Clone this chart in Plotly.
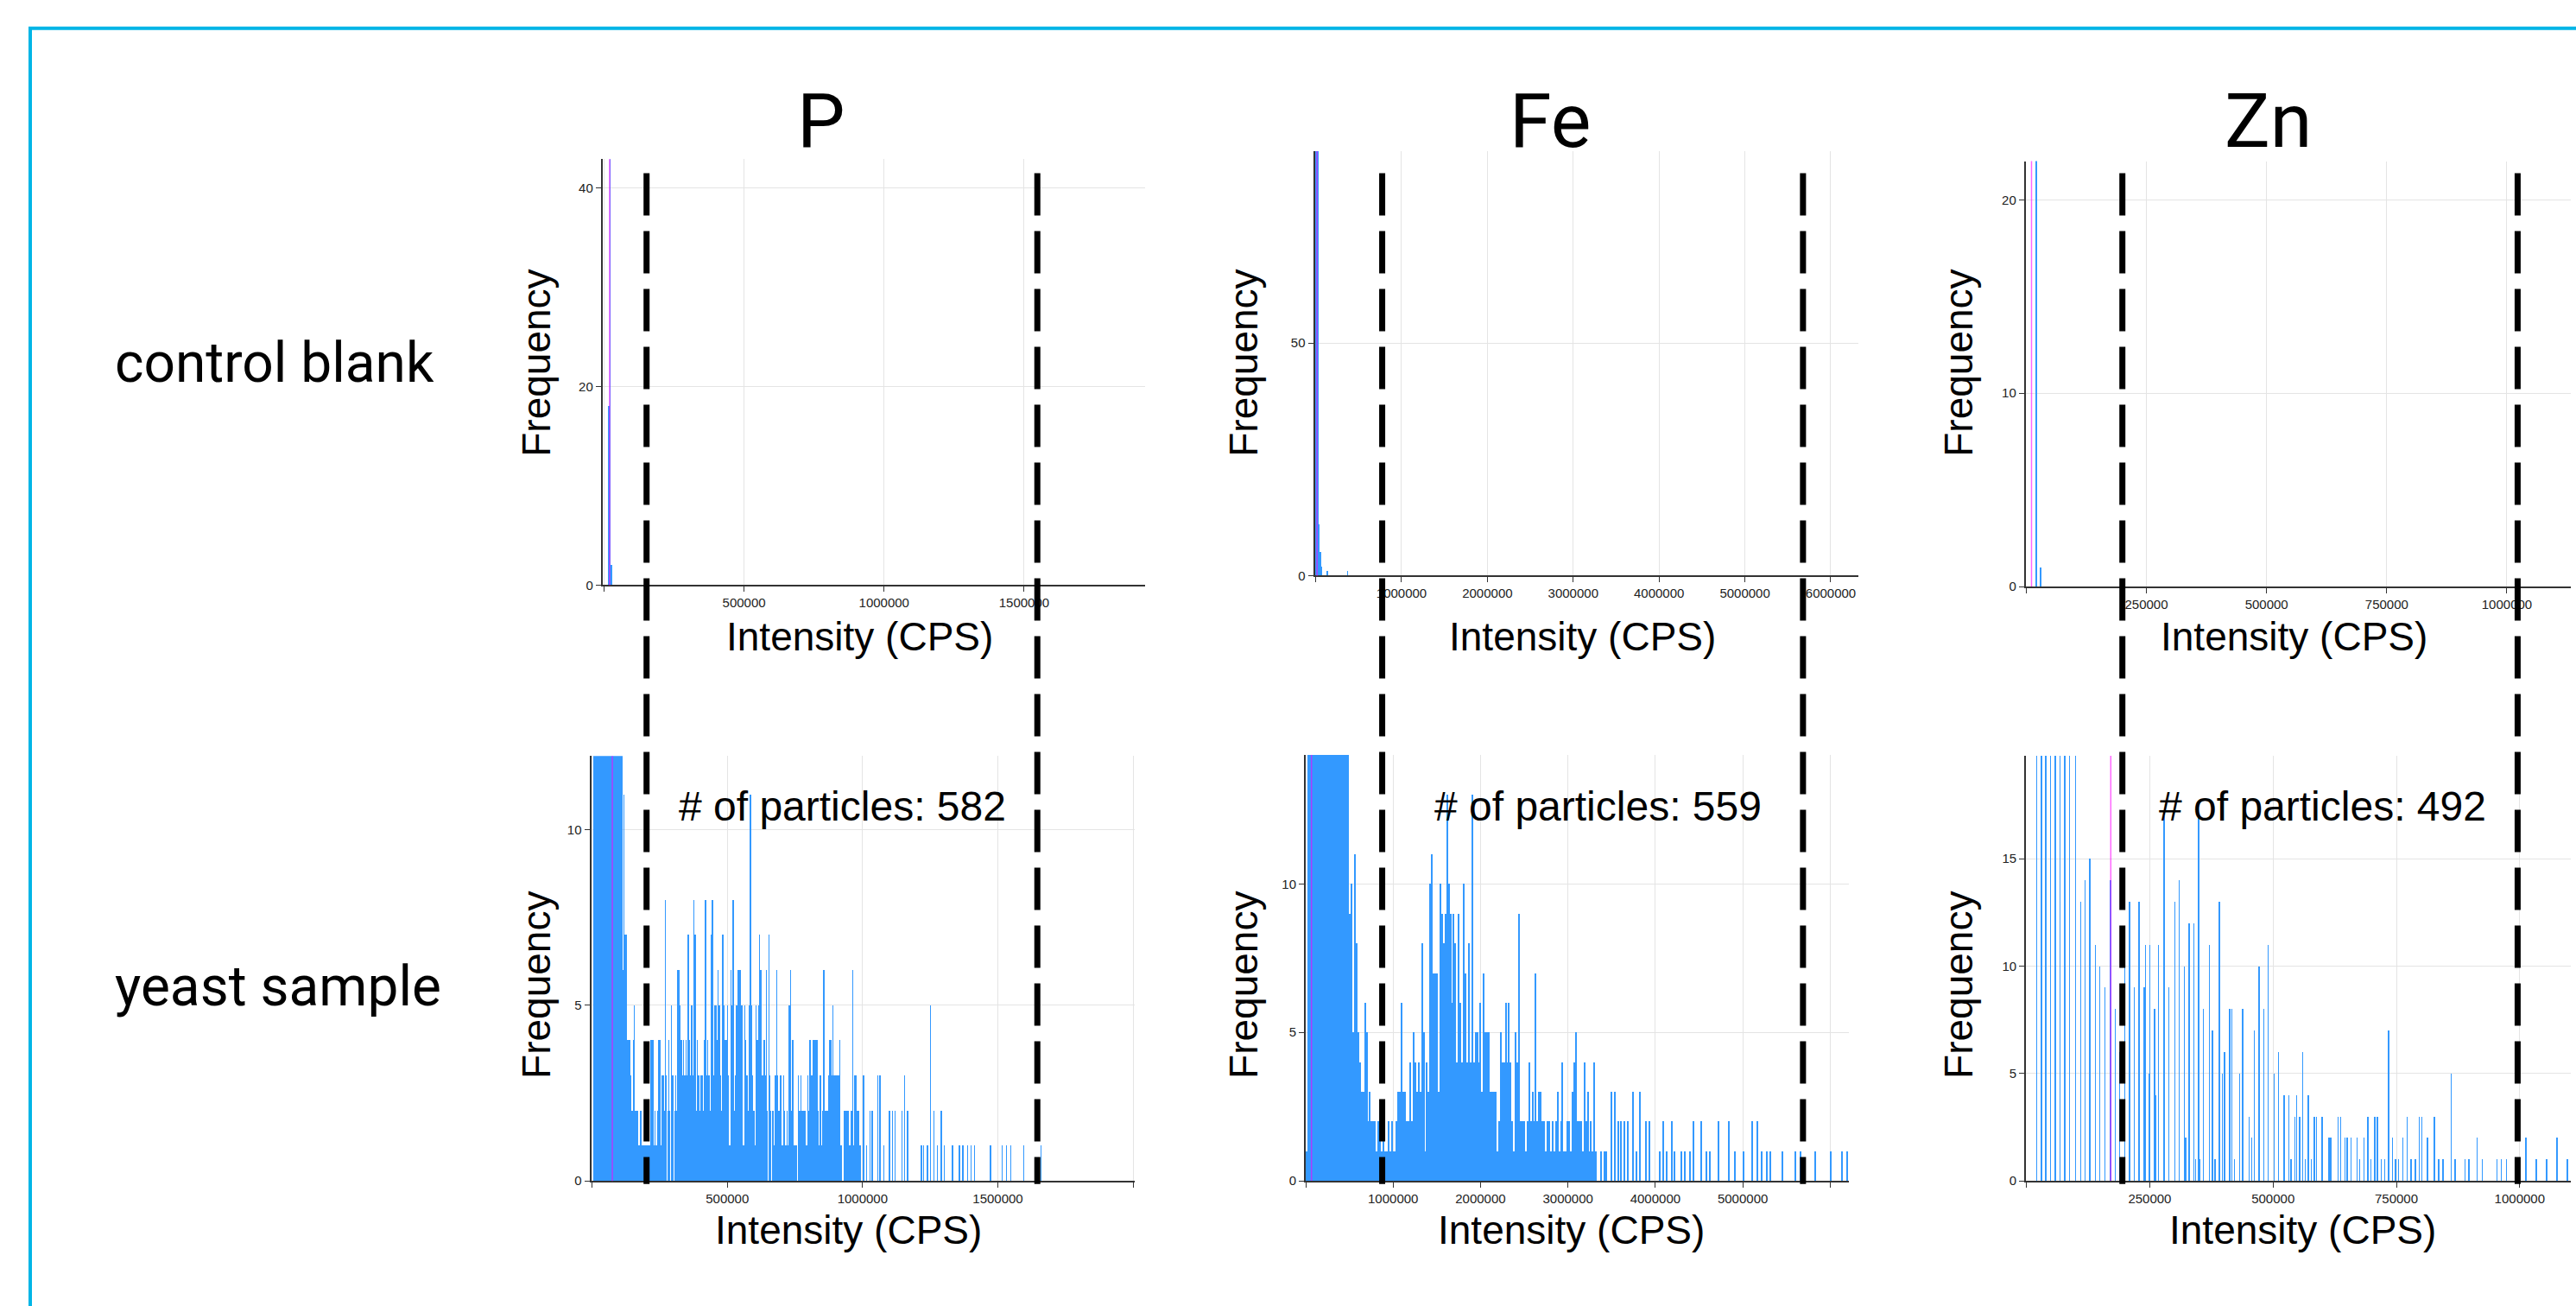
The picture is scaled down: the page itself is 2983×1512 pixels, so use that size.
import plotly.graph_objects as go

W, H = 2983, 1512

# ---------------- data ----------------
ELEMENTS = ["P", "Fe", "Zn"]
ROW_LABELS = ["control blank", "yeast sample"]
PARTICLE_COUNTS = [582, 559, 492]

# control blank histograms: intensity (CPS) and frequency
P_BLANK_X = [16000, 20500, 26000]
P_BLANK_N = [18, 60, 2]
FE_BLANK_X = [3000, 13000, 23000, 34000, 49000, 64000, 127000, 366000]
FE_BLANK_N = [95, 140, 120, 11, 5, 2, 1, 1]
ZN_BLANK_X = [20500, 29800]
ZN_BLANK_N = [40, 1]

# yeast sample, P: counts per bin (bin width in CPS) + sparse tail
P_SAMPLE_BIN = 4244
P_SAMPLE_COUNTS = [
    0, 45, 60, 70, 75, 72, 66, 60, 55, 50, 46, 42, 38, 35, 32, 30, 28, 26, 24, 22, 20, 18, 17, 16, 15, 14,
    6, 11, 7, 7, 4, 4, 4, 3, 2, 4,
    5, 2, 2, 2, 1, 2, 2, 1, 1, 1,
    1, 1, 1, 1, 4, 4, 4, 1, 2, 1,
    2, 4, 4, 1, 3, 3, 2, 8, 3, 2,
    4, 2, 5, 3, 3, 2, 3, 2, 6, 6,
    5, 4, 3, 4, 3, 4, 3, 7, 4, 3,
    5, 3, 8, 7, 2, 4, 3, 2, 3, 3,
    2, 4, 8, 3, 4, 3, 2, 7, 8, 3,
    5, 5, 4, 6, 5, 3, 2, 7, 5, 4,
    4, 5, 3, 1, 6, 5, 8, 2, 3, 5,
    6, 6, 6, 5, 5, 1, 5, 4, 3, 2,
    5, 11, 5, 3, 2, 1, 5, 4, 5, 7,
    6, 3, 3, 4, 3, 6, 2, 7, 3, 2,
    2, 2, 1, 3, 6, 3, 2, 3, 3, 1,
    3, 2, 1, 2, 1, 5, 6, 2, 4, 1,
    1, 1, 0, 3, 2, 3, 2, 2, 2, 2,
    1, 3, 2, 4, 3, 3, 4, 4, 4, 4,
    2, 1, 3, 1, 2, 6, 2, 2, 2, 3,
    4, 4, 3, 5, 3, 3, 3, 3, 3, 4,
    1, 0, 0, 2, 2, 2, 2, 1, 1, 2,
    6, 1, 3, 3, 2, 2, 1, 1, 0, 2,
]
P_SAMPLE_TAIL_X = [1002000, 1012500, 1025000, 1034000, 1055000, 1063000, 1076000, 1097500, 1108000,
                   1119000, 1143000, 1153000, 1165000, 1216000, 1225000, 1238000, 1250000, 1263000,
                   1276000, 1289000, 1301000, 1331000, 1356000, 1369000, 1386000, 1399000, 1412000,
                   1471000, 1514000, 1531000, 1547000, 1594000, 1658000]
P_SAMPLE_TAIL_N = [3, 1, 2, 2, 3, 3, 1, 2, 2,
                   2, 2, 3, 2, 1, 1, 1, 5, 2,
                   1, 2, 1, 1, 1, 1, 1, 1, 1,
                   1, 1, 1, 1, 1, 1]

# yeast sample, Fe
FE_SAMPLE_BIN = 19160
FE_SAMPLE_COUNTS = [
    1, 40, 60, 80, 90, 85, 75, 65, 55, 48, 42, 38, 34, 30, 28, 26, 24, 22, 20, 19, 18, 17, 16, 16, 15, 15,
    9, 10, 5, 11, 8, 5, 4, 3, 3, 6,
    5, 2, 3, 2, 2, 2, 1, 2, 2, 1,
    2, 1, 1, 2, 1, 2, 1, 1, 2, 3,
    3, 6, 3, 3, 2, 2, 4, 2, 5, 4,
    3, 4, 3, 8, 5, 1, 4, 3, 10, 11,
    7, 7, 7, 3, 10, 9, 8, 9, 13, 10,
    9, 6, 9, 8, 4, 9, 6, 4, 10, 7,
    4, 8, 4, 13, 4, 5, 5, 4, 6, 3,
    7, 5, 5, 5, 3, 3, 3, 3, 1, 2,
    5, 4, 4, 6, 4, 6, 4, 2, 1, 5,
    4, 9, 2, 2, 2, 1, 2, 4, 2, 3,
    2, 7, 2, 3, 3, 2, 2, 1, 2, 2,
    1, 2, 1, 2, 3, 1, 2, 4, 1, 1,
    2, 2, 1, 3, 4, 5, 2, 2, 2, 1,
    4, 2, 3, 1, 2, 1, 4, 1, 0, 0,
    1, 0, 1, 1, 0, 0, 3, 0, 3, 0,
    2, 0, 2, 0, 2, 0, 2,
]
FE_SAMPLE_TAIL_X = [3746000, 3784000, 3822000, 3899000, 3937000, 4052000, 4091000, 4129000, 4186000,
                    4225000, 4301000, 4340000, 4397000, 4436000, 4531000, 4589000, 4627000, 4723000,
                    4838000, 4915000, 5010000, 5106000, 5164000, 5221000, 5279000, 5317000, 5451000,
                    5604000, 5662000, 5834000, 6007000, 6141000, 6198000]
FE_SAMPLE_TAIL_N = [3, 1, 3, 2, 2, 1, 2, 1, 2,
                    1, 1, 1, 1, 2, 2, 1, 1, 2,
                    2, 1, 1, 2, 2, 1, 1, 1, 1,
                    1, 1, 1, 1, 1, 1]

# yeast sample, Zn (quantised intensities)
ZN_SAMPLE_X = [21200, 30500, 39700, 49000, 59100, 68300, 78400, 87700, 100300,
               110400, 119600, 128900, 139800, 149000, 159100, 170900, 180200, 189400, 199500,
               209600, 218900, 229000, 239000, 241500, 248300, 250800, 260100, 262600, 268500,
               279400, 289500, 301300, 310500, 320600, 323100, 329800, 339900, 343300, 349200,
               351700, 359300, 371100, 377800, 382800, 391200, 397100, 402200, 412300, 417300,
               422300, 432400, 439100, 451800, 456800, 461900, 472000, 481200, 490400, 502200,
               511500, 522400, 532500, 536700, 544300, 548500, 554400, 560300, 565300, 572000,
               577900, 583800, 588000, 599800, 614100, 617400, 632600, 637600, 646000, 650200,
               658600, 670400, 676300, 684700, 692300, 698200, 706600, 711600, 720000, 726800,
               734300, 742700, 748600, 754500, 763800, 772200, 779700, 789000, 796600, 802400,
               813400, 827700, 836000, 844500, 861300, 869700, 889100, 897500, 914300, 924400,
               953800, 963100, 973100, 1012600, 1033700, 1054700, 1075700, 1096700]
ZN_SAMPLE_N = [60, 55, 45, 38, 32, 28, 25, 22, 21,
               13, 14, 15, 11, 10, 9, 14, 8, 6, 10,
               13, 9, 13, 9, 11, 5, 11, 8, 4, 11,
               17, 9, 13, 14, 10, 2, 12, 12, 1, 17,
               1, 8, 11, 7, 1, 13, 5, 6, 8, 8,
               1, 5, 8, 3, 2, 7, 10, 8, 11, 5,
               6, 4, 4, 1, 3, 4, 3, 6, 1, 4,
               1, 3, 3, 3, 2, 2, 3, 3, 2, 2,
               2, 2, 1, 2, 3, 1, 3, 3, 1, 1,
               7, 2, 1, 1, 2, 3, 1, 1, 3, 3,
               2, 3, 1, 1, 5, 1, 1, 1, 2, 1,
               1, 1, 1, 2, 1, 1, 2, 1]

# magenta threshold markers drawn by the software (CPS)
BLANK_MARKERS = [20000, 15000, 11000]
SAMPLE_MARKERS = [75000, 66000, 171000]

# dashed particle window limits (CPS, on the sample axes)
LIMITS = [[201500, 1646000], [875000, 5689000], [194500, 995800]]

# ---------------- styling / layout ----------------
BAR = "#3399ff"
AXFONT = "Liberation Sans, Arial, sans-serif"
TFONT = "Roboto, Arial, sans-serif"


def fx(p):
    return p / W


def fy(p):
    return 1 - p / H


# geometry in pixels: x0, x1, ytop, ybottom ; axis ranges ; ticks
PANELS = [
    dict(x0=697.8, x1=1326, yt=185.2, yb=681.0, xr=[-5000, 1932000], yr=[0, 42.9],
         xt=[0, 500000, 1000000, 1500000], xl=["", "500000", "1000000", "1500000"], ytk=[0, 20, 40]),
    dict(x0=1522.5, x1=2152, yt=176.0, yb=670.0, xr=[-11000, 6322000], yr=[0, 91.2],
         xt=[0, 1000000, 2000000, 3000000, 4000000, 5000000, 6000000],
         xl=["", "1000000", "2000000", "3000000", "4000000", "5000000", "6000000"], ytk=[0, 50]),
    dict(x0=2345.8, x1=2977, yt=187.5, yb=682.7, xr=[-1000, 1133000], yr=[0, 22.0],
         xt=[0, 250000, 500000, 750000, 1000000], xl=["", "250000", "500000", "750000", "1000000"],
         ytk=[0, 10, 20]),
    dict(x0=684.5, x1=1314, yt=880.0, yb=1374.5, xr=[-3500, 2006000], yr=[0, 12.1],
         xt=[0, 500000, 1000000, 1500000, 2000000], xl=["", "500000", "1000000", "1500000", ""],
         ytk=[0, 5, 10]),
    dict(x0=1512.0, x1=2141, yt=878.6, yb=1374.3, xr=[0, 6214000], yr=[0, 14.35],
         xt=[0, 1000000, 2000000, 3000000, 4000000, 5000000, 6000000],
         xl=["", "1000000", "2000000", "3000000", "4000000", "5000000", ""], ytk=[0, 5, 10]),
    dict(x0=2346.2, x1=2977, yt=879.6, yb=1374.3, xr=[-700, 1103600], yr=[0, 19.8],
         xt=[0, 250000, 500000, 750000, 1000000], xl=["", "250000", "500000", "750000", "1000000"],
         ytk=[0, 5, 10, 15]),
]

# per-panel bar data and bar widths (CPS)
p_x = [(i + 0.5) * P_SAMPLE_BIN for i in range(len(P_SAMPLE_COUNTS))] + P_SAMPLE_TAIL_X
p_n = P_SAMPLE_COUNTS + P_SAMPLE_TAIL_N
fe_x = [(i + 0.5) * FE_SAMPLE_BIN for i in range(len(FE_SAMPLE_COUNTS))] + FE_SAMPLE_TAIL_X
fe_n = FE_SAMPLE_COUNTS + FE_SAMPLE_TAIL_N

SERIES = [
    (P_BLANK_X, P_BLANK_N, 1500),
    (FE_BLANK_X, FE_BLANK_N, 9000),
    (ZN_BLANK_X, ZN_BLANK_N, 900),
    (p_x, p_n, 1000),
    (fe_x, fe_n, 14000),
    (ZN_SAMPLE_X, ZN_SAMPLE_N, 800),
]
MARKERS = BLANK_MARKERS + SAMPLE_MARKERS

fig = go.Figure()
layout_axes = {}
shapes = []
for k, (pan, (xs, ns, bw)) in enumerate(zip(PANELS, SERIES)):
    n = k + 1
    xa = "x" if n == 1 else f"x{n}"
    ya = "y" if n == 1 else f"y{n}"
    fig.add_trace(go.Bar(x=xs, y=ns, width=bw, xaxis=xa, yaxis=ya,
                         marker=dict(color=BAR, line=dict(width=0)),
                         showlegend=False, hoverinfo="skip"))
    common = dict(showline=True, linecolor="#333", linewidth=2, ticks="outside", ticklen=6,
                  tickcolor="#333", tickwidth=1,
                  tickfont=dict(family=AXFONT, size=15, color="#222"),
                  showgrid=True, gridcolor="#e4e4e4", gridwidth=1, zeroline=False)
    layout_axes["xaxis" if n == 1 else f"xaxis{n}"] = dict(
        common, domain=[fx(pan["x0"]), fx(pan["x1"])], anchor=ya, range=pan["xr"],
        tickmode="array", tickvals=pan["xt"], ticktext=pan["xl"])
    layout_axes["yaxis" if n == 1 else f"yaxis{n}"] = dict(
        common, domain=[fy(pan["yb"]), fy(pan["yt"])], anchor=xa, range=pan["yr"],
        tickmode="array", tickvals=pan["ytk"], ticktext=[str(v) for v in pan["ytk"]])
    # magenta software marker
    shapes.append(dict(type="line", xref=xa, yref=f"{ya} domain", x0=MARKERS[k], x1=MARKERS[k],
                       y0=0, y1=1, line=dict(color="rgba(255,0,255,0.6)", width=1.5)))

# dashed particle-window limits spanning both rows
for c in range(3):
    xa = f"x{c + 4}"
    for v in LIMITS[c]:
        shapes.append(dict(type="line", xref=xa, yref="paper", x0=v, x1=v,
                           y0=fy(201.5), y1=fy(1378), line=dict(color="black", width=7, dash="49px,18px")))

# cyan frame
shapes.append(dict(type="rect", xref="paper", yref="paper", x0=fx(35), x1=1.02, y0=fy(33), y1=-0.02,
                   line=dict(color="#00b5e6", width=4), fillcolor="rgba(0,0,0,0)"))

ann = []
TITLE_X = [951, 1795, 2626]
for c, el in enumerate(ELEMENTS):
    ann.append(dict(text=el, x=fx(TITLE_X[c]), y=fy(140), font=dict(family=TFONT, size=88, color="black")))
ROW_Y = [423, 1149]
for r, lab in enumerate(ROW_LABELS):
    ann.append(dict(text=lab, x=fx(131), y=fy(ROW_Y[r]), xanchor="left",
                    font=dict(family=TFONT, size=64, color="black")))
FREQ_X = [621, 1440, 2268]
FREQ_Y = [423, 1147]
for r in range(2):
    for c in range(3):
        ann.append(dict(text="Frequency", x=fx(FREQ_X[c]), y=fy(FREQ_Y[r]), textangle=-90,
                        font=dict(family=AXFONT, size=46, color="black")))
INT_POS = [[(995, 741), (1832, 741), (2656, 741)], [(983, 1432), (1819, 1432), (2666, 1432)]]
for r in range(2):
    for c in range(3):
        px, py = INT_POS[r][c]
        ann.append(dict(text="Intensity (CPS)", x=fx(px), y=fy(py),
                        font=dict(family=AXFONT, size=46, color="black")))
PC_X = [975, 1850, 2689]
for c in range(3):
    ann.append(dict(text=f"# of particles: {PARTICLE_COUNTS[c]}", x=fx(PC_X[c]), y=fy(938),
                    font=dict(family=AXFONT, size=48, color="black")))
for a in ann:
    a.update(xref="paper", yref="paper", showarrow=False)
    a.setdefault("xanchor", "center")
    a.setdefault("yanchor", "middle")

fig.update_layout(width=W, height=H, autosize=False, margin=dict(l=0, r=0, t=0, b=0),
                  paper_bgcolor="white", plot_bgcolor="white", shapes=shapes, annotations=ann,
                  bargap=0, **layout_axes)

fig.write_html("out.html", config={"displayModeBar": False},
               post_script="document.body.style.margin='0px';document.body.style.overflow='hidden';")
